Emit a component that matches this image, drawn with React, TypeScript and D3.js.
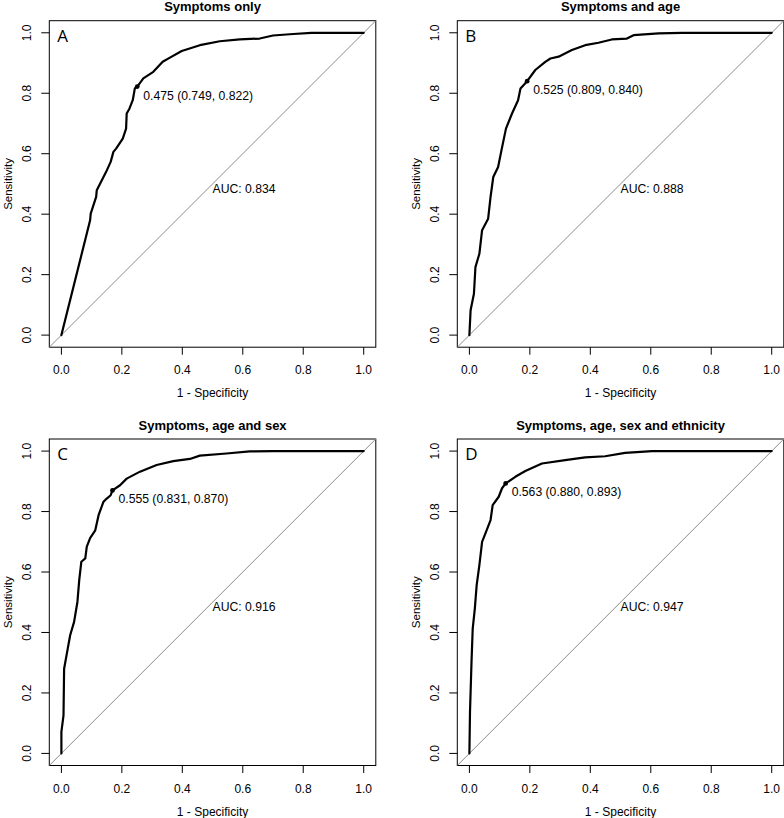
import React from 'react'
import * as d3 from 'd3'

// ROC points: [1 - specificity, sensitivity]
const rocA = [
  [0, 0], [0.095, 0.38], [0.097, 0.402], [0.115, 0.457], [0.117, 0.479], [0.148, 0.54],
  [0.163, 0.573], [0.172, 0.606], [0.181, 0.617], [0.203, 0.65], [0.214, 0.683],
  [0.216, 0.733], [0.225, 0.749], [0.236, 0.777], [0.243, 0.816], [0.251, 0.822],
  [0.271, 0.849], [0.304, 0.871], [0.335, 0.904], [0.359, 0.918], [0.398, 0.94],
  [0.458, 0.959], [0.524, 0.972], [0.59, 0.978], [0.656, 0.981], [0.7, 0.991],
  [0.767, 0.996], [0.827, 1], [1, 1],
]
const rocB = [
  [0, 0], [0.004, 0.082], [0.015, 0.137], [0.02, 0.225], [0.033, 0.269], [0.042, 0.347],
  [0.062, 0.385], [0.07, 0.457], [0.079, 0.523], [0.095, 0.556], [0.106, 0.611],
  [0.121, 0.683], [0.141, 0.733], [0.161, 0.777], [0.169, 0.816], [0.191, 0.84],
  [0.218, 0.877], [0.251, 0.904], [0.268, 0.915], [0.295, 0.921], [0.339, 0.943],
  [0.383, 0.959], [0.427, 0.967], [0.471, 0.978], [0.521, 0.981], [0.543, 0.992],
  [0.626, 0.998], [0.703, 1], [1, 1],
]
const rocC = [
  [0, 0], [0, 0.071], [0.007, 0.126], [0.009, 0.28], [0.018, 0.33], [0.029, 0.391],
  [0.042, 0.435], [0.053, 0.501], [0.059, 0.573], [0.066, 0.634], [0.079, 0.645],
  [0.084, 0.684], [0.095, 0.712], [0.112, 0.738], [0.123, 0.788], [0.139, 0.832],
  [0.15, 0.843], [0.163, 0.854], [0.169, 0.87], [0.194, 0.887], [0.216, 0.909],
  [0.26, 0.932], [0.315, 0.954], [0.37, 0.967], [0.425, 0.974], [0.458, 0.985],
  [0.546, 0.992], [0.623, 0.999], [0.7, 1], [1, 1],
]
const rocD = [
  [0, 0], [0.002, 0.137], [0.007, 0.302], [0.011, 0.413], [0.018, 0.479], [0.024, 0.556],
  [0.033, 0.623], [0.042, 0.7], [0.055, 0.733], [0.07, 0.772], [0.077, 0.821],
  [0.097, 0.849], [0.108, 0.877], [0.12, 0.893], [0.152, 0.915], [0.185, 0.934],
  [0.24, 0.959], [0.317, 0.97], [0.383, 0.979], [0.449, 0.983], [0.515, 0.994],
  [0.604, 1], [1, 1],
]

const titles = ['Symptoms only', 'Symptoms and age', 'Symptoms, age and sex', 'Symptoms, age, sex and ethnicity']
const letters = ['A', 'B', 'C', 'D']
const cutoffs = ['0.475', '0.525', '0.555', '0.563']
const specificity = [0.749, 0.809, 0.831, 0.88]
const sensitivity = [0.822, 0.84, 0.87, 0.893]
const aucs = ['0.834', '0.888', '0.916', '0.947']
const curves = [rocA, rocB, rocC, rocD]

const tickValues = [0, 0.2, 0.4, 0.6, 0.8, 1]
const boxLefts = [49.3, 457.3]
const boxTops = [20.7, 439]
const boxSize = 326.5
const font = '"Liberation Sans", Arial, Helvetica, sans-serif'

function Panel({ i }) {
  const left = boxLefts[i % 2]
  const top = boxTops[Math.floor(i / 2)]
  const x = d3.scaleLinear().domain([-0.04, 1.04]).range([left, left + boxSize])
  const y = d3.scaleLinear().domain([-0.04, 1.04]).range([top + boxSize, top])
  const fmt = d3.format('.1f')
  const line = d3.line().x(d => x(d[0])).y(d => y(d[1]))
  const px = x(1 - specificity[i])
  const py = y(sensitivity[i])
  const midX = (x(0) + x(1)) / 2
  const midY = (y(0) + y(1)) / 2

  return (
    <g>
      <text x={left + boxSize / 2} y={top - 9.5} textAnchor="middle" fontWeight="bold" fontSize={13} fontFamily={font}>{titles[i]}</text>
      <rect x={left} y={top} width={boxSize} height={boxSize} fill="none" stroke="#000" strokeWidth={1} />
      <line x1={x(-0.04)} y1={y(-0.04)} x2={x(1.04)} y2={y(1.04)} stroke="#8a8a8a" strokeWidth={1} />
      {tickValues.map(t => (
        <g key={'x' + t}>
          <line x1={x(t)} x2={x(t)} y1={top + boxSize} y2={top + boxSize + 7.5} stroke="#000" />
          <text x={x(t)} y={top + boxSize + 27} textAnchor="middle" fontSize={12} fontFamily={font}>{fmt(t)}</text>
        </g>
      ))}
      {tickValues.map(t => (
        <g key={'y' + t}>
          <line x1={left} x2={left - 8} y1={y(t)} y2={y(t)} stroke="#000" />
          <text transform={`translate(${left - 18},${y(t)}) rotate(-90)`} textAnchor="middle" fontSize={12} fontFamily={font}>{fmt(t)}</text>
        </g>
      ))}
      <text x={midX} y={top + boxSize + 50} textAnchor="middle" fontSize={12} fontFamily={font}>1 - Specificity</text>
      <text transform={`translate(${left - 37.5},${midY}) rotate(-90)`} textAnchor="middle" fontSize={11.5} fontFamily={font}>Sensitivity</text>
      <text x={left + 8} y={top + 21} fontSize={17} fontFamily='"Open Sans", sans-serif'>{letters[i]}</text>
      <path d={line(curves[i])} fill="none" stroke="#000" strokeWidth={2.2} strokeLinejoin="round" strokeLinecap="round" />
      <circle cx={px} cy={py} r={2.4} fill="#000" />
      <text x={px + 6} y={py + 13} fontSize={12.2} fontFamily={font}>{`${cutoffs[i]} (${specificity[i].toFixed(3)}, ${sensitivity[i].toFixed(3)})`}</text>
      <text x={x(0.5)} y={y(0.5) + 9} fontSize={12.2} fontFamily={font}>{`AUC: ${aucs[i]}`}</text>
    </g>
  )
}

export default function App() {
  return (
    <svg width={784} height={818} style={{ position: 'absolute', left: 0, top: 0, background: '#fff' }}>
      {[0, 1, 2, 3].map(i => <Panel key={i} i={i} />)}
    </svg>
  )
}
